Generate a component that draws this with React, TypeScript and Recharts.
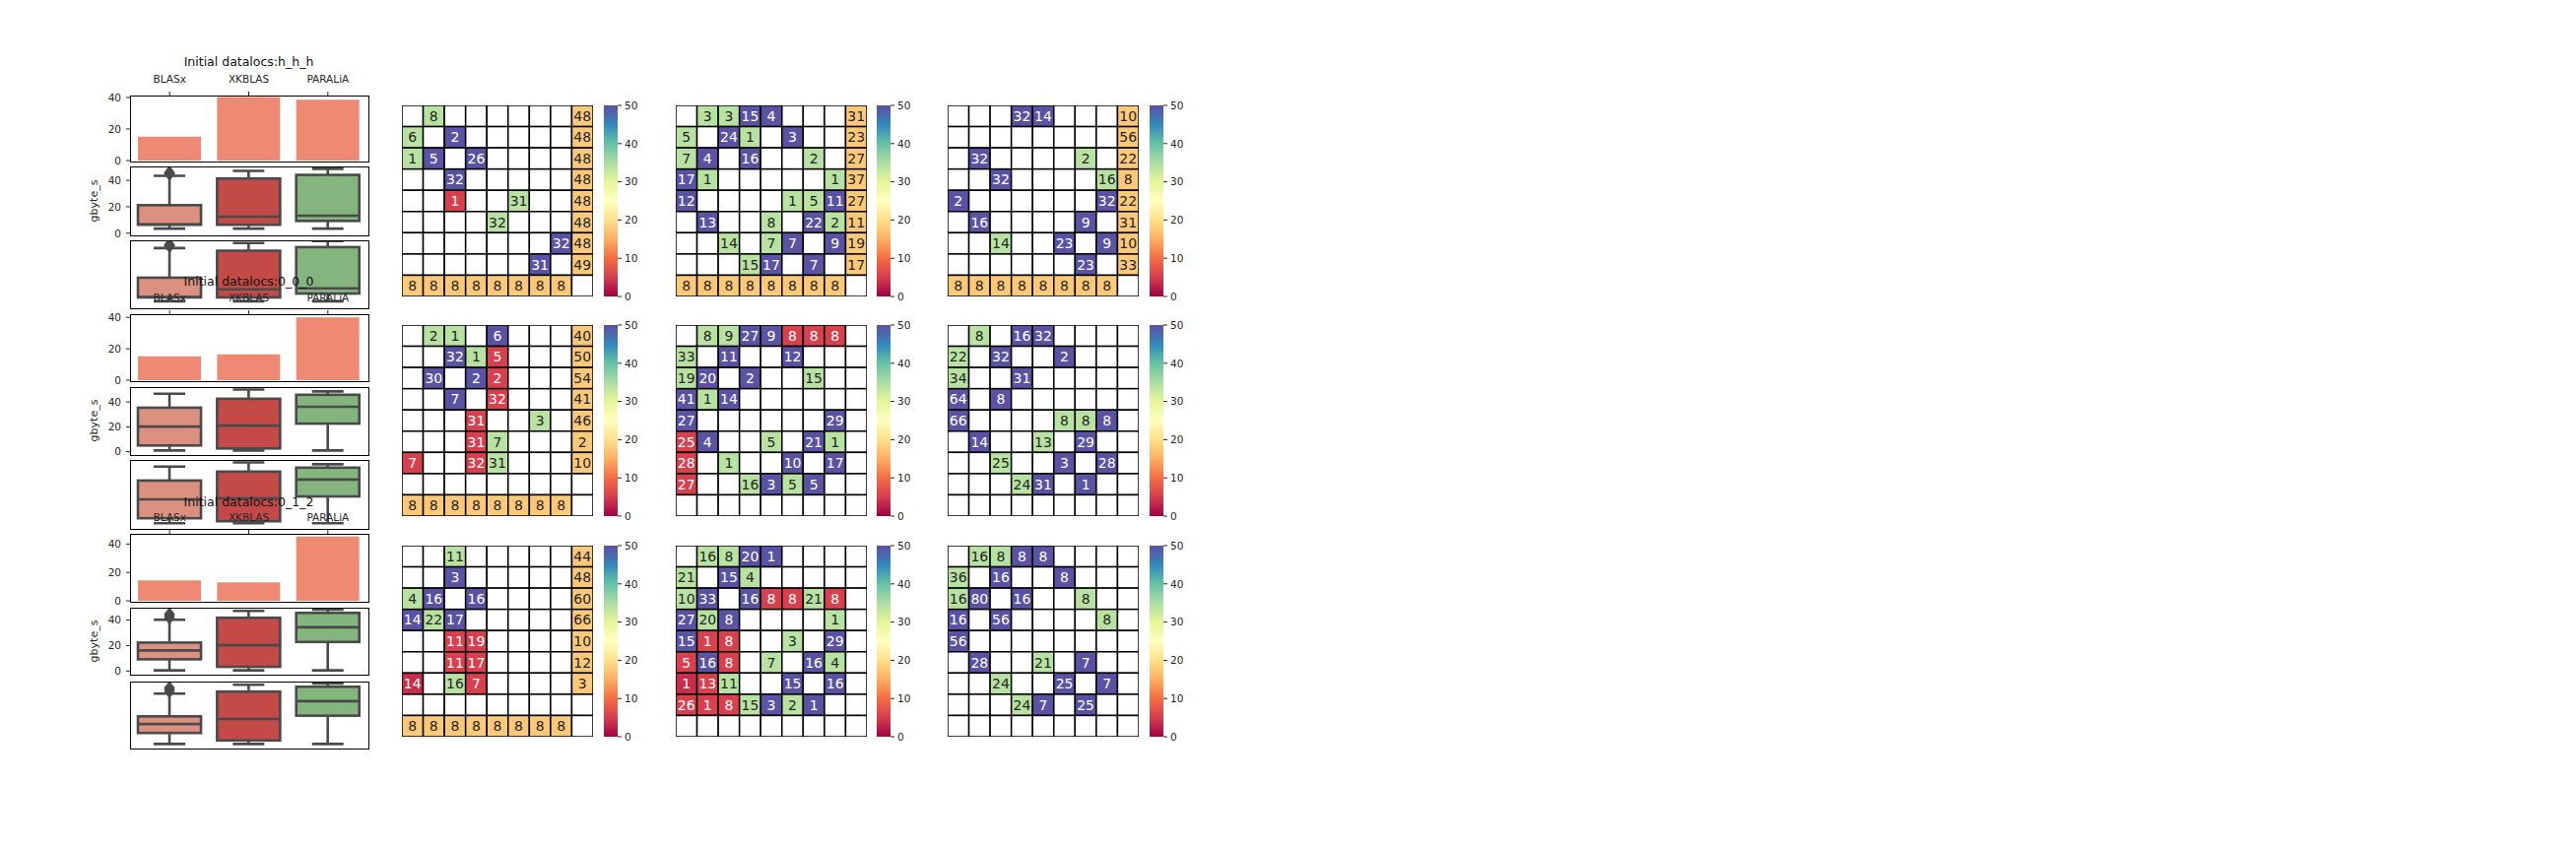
import React from 'react';
import { BarChart, Bar, XAxis, YAxis, ScatterChart, Scatter } from 'recharts';

const FONT = '"DejaVu Sans", Verdana, sans-serif';
const INK = '#262626';

const categories = ['BLASx', 'XKBLAS', 'PARALiA'];
const titles = ['Initial datalocs:h_h_h', 'Initial datalocs:0_0_0', 'Initial datalocs:0_1_2'];

// mean gbyte_s per library
const barHhh = [15.2, 40.2, 38.5];
const bar000 = [15.2, 16.4, 40.0];
const bar012 = [14.4, 13.0, 45.3];

// [low whisker, q1, median, q3, high whisker]
const boxHhh = [
  [3.5, 6.4, 6.7, 21.2, 43.4],
  [3.5, 6.4, 12.5, 41.4, 47.2],
  [3.5, 9.3, 13.2, 44.1, 48.7],
];
const box000 = [
  [1, 5, 20.2, 35.4, 46.6],
  [1, 2.6, 21, 42.6, 50],
  [1, 22.6, 36.2, 45.8, 48.5],
];
const box012 = [
  [0.5, 9.2, 16.2, 22.3, 40.2],
  [0.5, 3.3, 20.2, 41.8, 47.2],
  [0.5, 22.8, 34.3, 45.6, 48.2],
];
const fliersHhh = [[44.9, 45.4, 45.9], [], []];
const fliers000 = [[], [], []];
const fliers012 = [[41.9, 43.3, 44.7], [], []];

// heatmap cells: colour code + annotation, '.' = empty
const gridHhhA = [
  '. g8 . . . . . . o48',
  'g6 . b2 . . . . . o48',
  'g1 b5 . b26 . . . . o48',
  '. . b32 . . . . . o48',
  '. . r1 . . g31 . . o48',
  '. . . . g32 . . . o48',
  '. . . . . . . b32 o48',
  '. . . . . . b31 . o49',
  'o8 o8 o8 o8 o8 o8 o8 o8 .',
];
const gridHhhB = [
  '. g3 g3 b15 b4 . . . o31',
  'g5 . b24 g1 . b3 . . o23',
  'g7 b4 . b16 . . g2 . o27',
  'b17 g1 . . . . . g1 o37',
  'b12 . . . . g1 g5 b11 o27',
  '. b13 . . g8 . b22 g2 o11',
  '. . g14 . g7 b7 . b9 o19',
  '. . . g15 b17 . b7 . o17',
  'o8 o8 o8 o8 o8 o8 o8 o8 .',
];
const gridHhhC = [
  '. . . b32 b14 . . . o10',
  '. . . . . . . . o56',
  '. b32 . . . . g2 . o22',
  '. . b32 . . . . g16 o8',
  'b2 . . . . . . b32 o22',
  '. b16 . . . . b9 . o31',
  '. . g14 . . b23 . b9 o10',
  '. . . . . . b23 . o33',
  'o8 o8 o8 o8 o8 o8 o8 o8 .',
];
const grid000A = [
  '. g2 g1 . b6 . . . o40',
  '. . b32 g1 r5 . . . o50',
  '. b30 . b2 r2 . . . o54',
  '. . b7 . r32 . . . o41',
  '. . . r31 . . g3 . o46',
  '. . . r31 g7 . . . o2',
  'r7 . . r32 g31 . . . o10',
  '. . . . . . . . .',
  'o8 o8 o8 o8 o8 o8 o8 o8 .',
];
const grid000B = [
  '. g8 g9 b27 b9 r8 r8 r8 .',
  'g33 . b11 . . b12 . . .',
  'g19 b20 . b2 . . g15 . .',
  'b41 g1 b14 . . . . . .',
  'b27 . . . . . . b29 .',
  'r25 b4 . . g5 . b21 g1 .',
  'r28 . g1 . . b10 . b17 .',
  'r27 . . g16 b3 g5 b5 . .',
  '. . . . . . . . .',
];
const grid000C = [
  '. g8 . b16 b32 . . . .',
  'g22 . b32 . . b2 . . .',
  'g34 . . b31 . . . . .',
  'b64 . b8 . . . . . .',
  'b66 . . . . g8 g8 b8 .',
  '. b14 . . g13 . b29 . .',
  '. . g25 . . b3 . b28 .',
  '. . . g24 b31 . b1 . .',
  '. . . . . . . . .',
];
const grid012A = [
  '. . g11 . . . . . o44',
  '. . b3 . . . . . o48',
  'g4 b16 . b16 . . . . o60',
  'b14 g22 b17 . . . . . o66',
  '. . r11 r19 . . . . o10',
  '. . r11 r17 . . . . o12',
  'R14 . g16 r7 . . . . o3',
  '. . . . . . . . .',
  'o8 o8 o8 o8 o8 o8 o8 o8 .',
];
const grid012B = [
  '. g16 g8 b20 b1 . . . .',
  'g21 . b15 g4 . . . . .',
  'g10 b33 . b16 r8 r8 g21 r8 .',
  'b27 g20 b8 . . . . g1 .',
  'b15 r1 r8 . . g3 . b29 .',
  'r5 b16 r8 . g7 . b16 g4 .',
  'R1 r13 g11 . . b15 . b16 .',
  'r26 r1 r8 g15 b3 g2 b1 . .',
  '. . . . . . . . .',
];
const grid012C = [
  '. g16 g8 b8 b8 . . . .',
  'g36 . b16 . . b8 . . .',
  'g16 b80 . b16 . . g8 . .',
  'b16 . b56 . . . . g8 .',
  'b56 . . . . . . . .',
  '. b28 . . g21 . b7 . .',
  '. . g24 . . b25 . b7 .',
  '. . . g24 b7 . b25 . .',
  '. . . . . . . . .',
];

const colorbarTicks = [0, 10, 20, 30, 40, 50];
const spectral = ['#9e0142', '#d53e4f', '#f46d43', '#fdae61', '#fee08b', '#ffffbf', '#e6f598', '#abdda4', '#66c2a5', '#3288bd', '#5e4fa2'];

const barColor = '#ee8a73';
const boxColors = ['#dc9180', '#c44a48', '#84b57f'];
const BOX_LINE = '#4a4a4a';
const CELL_COLORS: Record<string, string> = {
  b: '#5a53a4', g: '#b7e2a1', r: '#d8404e', R: '#c92d4b', o: '#fdc877', '.': '#ffffff',
};
const DARK_TEXT = new Set(['g', 'o', '.']);

// layout
const PLOT_L = 132;
const PLOT_W = 241;
const YW = 34;
const XH = 24;
const HM = 194;
const CB_W = 14;
const HX = [408, 686, 962];
const CBX = [613, 890, 1167];

const groups = [
  { title: 63, bar: [97, 163], barMax: 41.2, box1: [169, 238], d1: [-0.9, 50.5], box2: [244, 312], d2: [-1, 49.2], hy: 107,
    bars: barHhh, box: boxHhh, fliers: fliersHhh, grids: [gridHhhA, gridHhhB, gridHhhC] },
  { title: 286, bar: [319, 386], barMax: 42, box1: [393, 461], d1: [-1.9, 52], box2: [467, 536], d2: [-2.8, 52], hy: 330,
    bars: bar000, box: box000, fliers: fliers000, grids: [grid000A, grid000B, grid000C] },
  { title: 510, bar: [542, 610], barMax: 47.2, box1: [617, 684], d1: [-2.1, 49.7], box2: [692, 759], d2: [-2.3, 49.7], hy: 554,
    bars: bar012, box: box012, fliers: fliers012, grids: [grid012A, grid012B, grid012C] },
];

const tickStyle = { fill: INK, fontSize: 10.5, fontFamily: FONT };

const Frame = ({ top, bottom }: { top: number; bottom: number }) => (
  <div style={{ position: 'absolute', left: PLOT_L - 0.5, top: top - 0.5, width: PLOT_W, height: bottom - top, border: '1px solid #000', pointerEvents: 'none' }} />
);

function BarPanel({ values, top, bottom, ymax }: { values: number[]; top: number; bottom: number; ymax: number }) {
  const data = categories.map((name, i) => ({ name, v: values[i] }));
  const h = bottom - top;
  return (
    <div style={{ position: 'absolute', left: PLOT_L - YW, top: top - XH }}>
      <BarChart width={YW + PLOT_W + 2} height={XH + h + 10} data={data} margin={{ top: 0, right: 2, bottom: 10, left: 0 }} barCategoryGap="10%">
        <XAxis dataKey="name" orientation="top" height={XH} tickSize={4} tickMargin={9} axisLine={false} tickLine={{ stroke: INK }} tick={tickStyle} interval={0} />
        <YAxis type="number" domain={[0, ymax]} allowDataOverflow ticks={[0, 20, 40]} width={YW} tickSize={4} tickMargin={5} axisLine={false} tickLine={{ stroke: INK }} tick={tickStyle} />
        <Bar dataKey="v" fill={barColor} isAnimationActive={false} />
      </BarChart>
    </div>
  );
}

const BoxShape = (props: any) => {
  const { x, y, width, height, payload } = props;
  const [low, q1, med, q3, high] = payload.stats;
  const top = Math.min(y, y + height);
  const h = Math.abs(height);
  const k = h / (high - low);
  const py = (v: number) => top + (high - v) * k;
  const cx = x + width / 2;
  const cap = width / 4;
  const ln = { stroke: BOX_LINE, strokeWidth: 2.6 };
  return (
    <g>
      <line x1={cx} x2={cx} y1={py(high)} y2={py(q3)} {...ln} />
      <line x1={cx} x2={cx} y1={py(q1)} y2={py(low)} {...ln} />
      <line x1={cx - cap} x2={cx + cap} y1={py(high)} y2={py(high)} {...ln} />
      <line x1={cx - cap} x2={cx + cap} y1={py(low)} y2={py(low)} {...ln} />
      <rect x={x} y={py(q3)} width={width} height={py(q1) - py(q3)} fill={payload.color} {...ln} />
      <line x1={x} x2={x + width} y1={py(med)} y2={py(med)} {...ln} />
      {payload.fliers.map((f: number, i: number) => (
        <path key={i} d={`M${cx},${py(f) - 6.5} L${cx + 5},${py(f)} L${cx},${py(f) + 6.5} L${cx - 5},${py(f)} Z`} fill={BOX_LINE} stroke={BOX_LINE} strokeWidth={1} />
      ))}
    </g>
  );
};

function BoxPanel({ stats, fliers, top, bottom, domain, showTicks }: any) {
  const data = categories.map((name, i) => ({
    name, range: [stats[i][0], stats[i][4]], stats: stats[i], fliers: fliers[i], color: boxColors[i],
  }));
  const h = bottom - top;
  return (
    <div style={{ position: 'absolute', left: PLOT_L - YW, top: top - 8 }}>
      <BarChart width={YW + PLOT_W + 2} height={h + 16} data={data} margin={{ top: 8, right: 2, bottom: 8, left: 0 }} barCategoryGap="10%">
        <XAxis dataKey="name" hide />
        <YAxis type="number" domain={domain} allowDataOverflow ticks={showTicks ? [0, 20, 40] : []} width={YW} tickSize={4} tickMargin={5}
          axisLine={false} tickLine={showTicks ? { stroke: INK } : false} tick={showTicks ? tickStyle : false} />
        <Bar dataKey="range" shape={BoxShape} isAnimationActive={false} />
      </BarChart>
    </div>
  );
}

const parseGrid = (rows: string[]) =>
  rows.flatMap((row, r) =>
    row.split(' ').map((tok, c) => ({ x: c + 0.5, y: r + 0.5, code: tok[0], label: tok.slice(1) })),
  );

const HeatCell = (props: any) => {
  const { cx, cy, payload, s } = props;
  return (
    <g>
      <rect x={cx - s / 2} y={cy - s / 2} width={s} height={s} fill={CELL_COLORS[payload.code]} stroke="#000" strokeWidth={1.5} />
      {payload.label && (
        <text x={cx} y={cy} dy="0.36em" textAnchor="middle" fontSize={14} fontFamily={FONT} fill={DARK_TEXT.has(payload.code) ? INK : '#ffffff'}>
          {payload.label}
        </text>
      )}
    </g>
  );
};

function Heatmap({ grid, left, top }: { grid: string[]; left: number; top: number }) {
  const data = parseGrid(grid);
  const s = HM / 9;
  return (
    <div style={{ position: 'absolute', left: left - 2, top: top - 2 }}>
      <ScatterChart width={HM + 4} height={HM + 4} margin={{ top: 2, right: 2, bottom: 2, left: 2 }}>
        <XAxis type="number" dataKey="x" domain={[0, 9]} allowDataOverflow hide />
        <YAxis type="number" dataKey="y" domain={[0, 9]} allowDataOverflow reversed hide />
        <Scatter data={data} isAnimationActive={false} shape={(p: any) => <HeatCell {...p} s={s} />} />
      </ScatterChart>
    </div>
  );
}

function Colorbar({ id, left, top }: { id: string; left: number; top: number }) {
  return (
    <div style={{ position: 'absolute', left, top: top - 8 }}>
      <BarChart width={CB_W + 34} height={HM + 16} data={[{ name: 'cb', v: 50 }]} margin={{ top: 8, right: 0, bottom: 8, left: 0 }} barCategoryGap={0}>
        <defs>
          <linearGradient id={id} x1="0" y1="1" x2="0" y2="0">
            {spectral.map((c, i) => <stop key={i} offset={`${i * 10}%`} stopColor={c} />)}
          </linearGradient>
        </defs>
        <XAxis dataKey="name" hide />
        <YAxis orientation="right" type="number" domain={[0, 50]} allowDataOverflow ticks={colorbarTicks} width={34} tickSize={4} tickMargin={3}
          axisLine={false} tickLine={{ stroke: INK }} tick={tickStyle} />
        <Bar dataKey="v" fill={`url(#${id})`} isAnimationActive={false} />
      </BarChart>
    </div>
  );
}

export default function App() {
  return (
    <div style={{ position: 'relative', width: 2615, height: 862, background: '#fff', fontFamily: FONT }}>
      <style>{'body{margin:0}'}</style>
      {groups.map((g, gi) => (
        <React.Fragment key={gi}>
          <BarPanel values={g.bars} top={g.bar[0]} bottom={g.bar[1]} ymax={g.barMax} />
          <Frame top={g.bar[0]} bottom={g.bar[1]} />
          <BoxPanel stats={g.box} fliers={g.fliers} top={g.box1[0]} bottom={g.box1[1]} domain={g.d1} showTicks />
          <Frame top={g.box1[0]} bottom={g.box1[1]} />
          <BoxPanel stats={g.box} fliers={g.fliers} top={g.box2[0]} bottom={g.box2[1]} domain={g.d2} showTicks={false} />
          <Frame top={g.box2[0]} bottom={g.box2[1]} />
          <div style={{ position: 'absolute', left: 95, top: (g.box1[0] + g.box1[1]) / 2, transform: 'translate(-50%, -50%) rotate(-90deg)', fontSize: 11, color: INK, whiteSpace: 'nowrap', lineHeight: 1 }}>
            gbyte_s
          </div>
          {g.grids.map((grid, hi) => (
            <React.Fragment key={hi}>
              <Heatmap grid={grid} left={HX[hi]} top={g.hy} />
              <Colorbar id={`cb-${gi}-${hi}`} left={CBX[hi]} top={g.hy} />
            </React.Fragment>
          ))}
        </React.Fragment>
      ))}
      {groups.map((g, gi) => (
        <div key={`t${gi}`} style={{ position: 'absolute', left: PLOT_L + PLOT_W / 2, top: g.title, transform: 'translate(-50%, -50%)', fontSize: 12.5, color: '#111', whiteSpace: 'nowrap', lineHeight: 1 }}>
          {titles[gi]}
        </div>
      ))}
    </div>
  );
}
